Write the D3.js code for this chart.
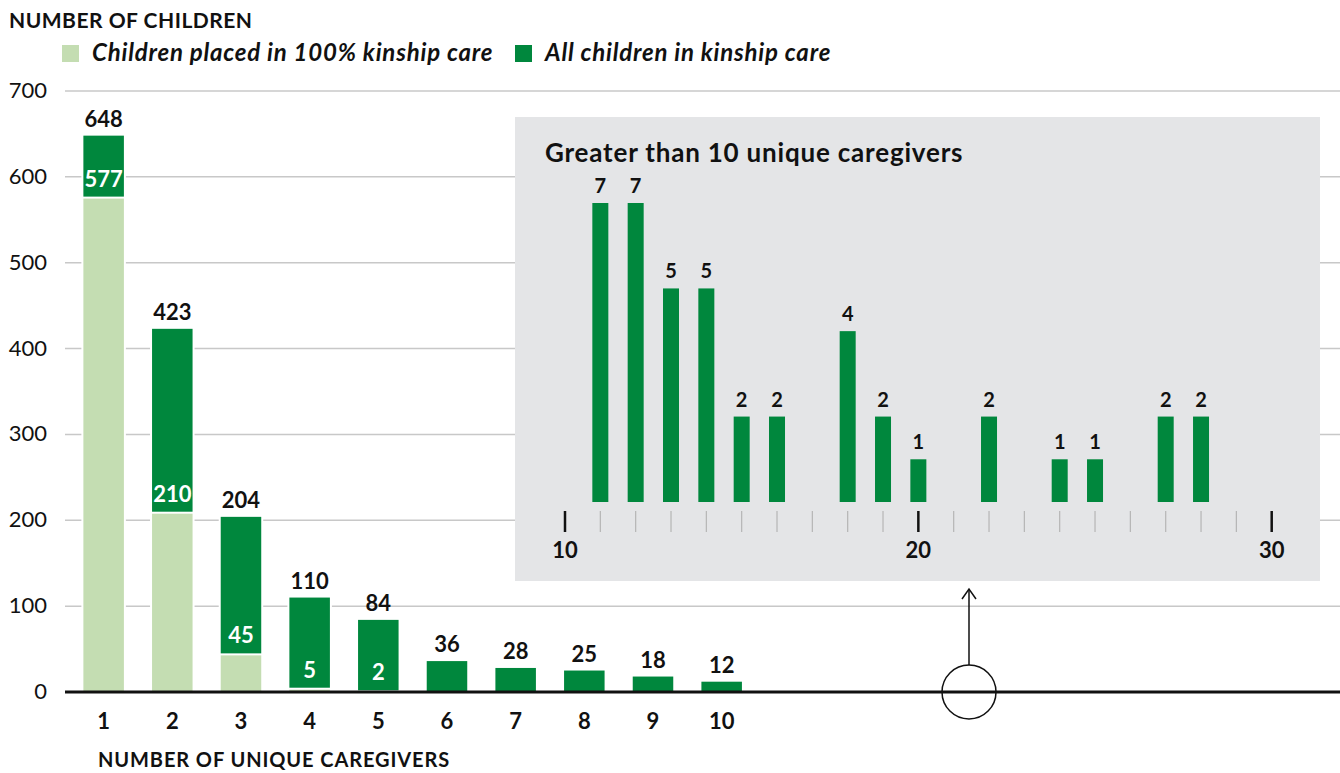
<!DOCTYPE html>
<html>
<head>
<meta charset="utf-8">
<script src="https://cdn.jsdelivr.net/npm/d3@7"></script>
<style>
  body { margin: 0; background: #fff; }
  svg { font-family: "Lato", "Noto Sans", sans-serif; }
</style>
</head>
<body>
<div id="chart"></div>
<script>
var width = 1340;
var height = 773;

// main chart data
var categories = [1, 2, 3, 4, 5, 6, 7, 8, 9, 10];
var allKinship = [648, 423, 204, 110, 84, 36, 28, 25, 18, 12];
var fullKinship = [577, 210, 45, 5, 2, null, null, null, null, null];
var yTicks = [0, 100, 200, 300, 400, 500, 600, 700];

// inset data (more than 10 caregivers)
var insetCaregivers = [11, 12, 13, 14, 15, 16, 18, 19, 20, 22, 24, 25, 27, 28];
var insetChildren = [7, 7, 5, 5, 2, 2, 4, 2, 1, 2, 1, 1, 2, 2];
var insetMajorTicks = [10, 20, 30];

var darkGreen = "#00873d";
var lightGreen = "#c4ddb2";

var svg = d3.select("#chart")
  .append("svg")
  .attr("width", width)
  .attr("height", height);

var xScale = d3.scaleBand()
  .domain(categories)
  .range([69.3, 756])
  .paddingInner(0.41)
  .paddingOuter(0.205);

var yScale = d3.scaleLinear()
  .domain([0, 700])
  .range([692, 91]);

// gridlines
svg.append("g")
  .selectAll("line")
  .data(yTicks.filter(function(d) { return d > 0; }))
  .enter()
  .append("line")
  .attr("x1", 65)
  .attr("x2", width)
  .attr("y1", function(d) { return yScale(d); })
  .attr("y2", function(d) { return yScale(d); })
  .attr("stroke", "#c8c8c8")
  .attr("stroke-width", 1.5);

// y labels
svg.append("g")
  .selectAll("text")
  .data(yTicks)
  .enter()
  .append("text")
  .attr("x", 47)
  .attr("y", function(d) { return yScale(d) + 7; })
  .attr("text-anchor", "end")
  .attr("font-size", 22)
  .attr("fill", "#111")
  .text(function(d) { return d; });

// inset box
var inset = svg.append("g");
inset.append("rect")
  .attr("x", 515)
  .attr("y", 117)
  .attr("width", 805)
  .attr("height", 464)
  .attr("fill", "#e4e5e7");

inset.append("text")
  .attr("x", 545)
  .attr("y", 162)
  .attr("font-size", 26)
  .attr("font-weight", 700)
  .attr("letter-spacing", 0.8)
  .attr("fill", "#111")
  .text("Greater than 10 unique caregivers");

var ix = d3.scaleLinear().domain([10, 30]).range([565, 1271.7]);
var iy = d3.scaleLinear().domain([0, 7]).range([502, 203]);

inset.append("g")
  .selectAll("line")
  .data(d3.range(11, 30).filter(function(d) { return d !== 20; }))
  .enter()
  .append("line")
  .attr("x1", function(d) { return ix(d); })
  .attr("x2", function(d) { return ix(d); })
  .attr("y1", 511)
  .attr("y2", 532)
  .attr("stroke", "#b5b5b5")
  .attr("stroke-width", 1.2);

inset.append("g")
  .selectAll("line")
  .data(insetMajorTicks)
  .enter()
  .append("line")
  .attr("x1", function(d) { return ix(d); })
  .attr("x2", function(d) { return ix(d); })
  .attr("y1", 511)
  .attr("y2", 532)
  .attr("stroke", "#111")
  .attr("stroke-width", 2.5);

inset.append("g")
  .selectAll("text")
  .data(insetMajorTicks)
  .enter()
  .append("text")
  .attr("x", function(d) { return ix(d); })
  .attr("y", 558)
  .attr("text-anchor", "middle")
  .attr("font-size", 22)
  .attr("font-weight", 700)
  .attr("fill", "#111")
  .text(function(d) { return d; });

inset.append("g")
  .selectAll("rect")
  .data(insetCaregivers)
  .enter()
  .append("rect")
  .attr("x", function(d) { return ix(d) - 8; })
  .attr("y", function(d, i) { return iy(insetChildren[i]); })
  .attr("width", 16)
  .attr("height", function(d, i) { return iy(0) - iy(insetChildren[i]); })
  .attr("fill", darkGreen);

inset.append("g")
  .selectAll("text")
  .data(insetCaregivers)
  .enter()
  .append("text")
  .attr("x", function(d) { return ix(d); })
  .attr("y", function(d, i) { return iy(insetChildren[i]) - 10; })
  .attr("text-anchor", "middle")
  .attr("font-size", 20)
  .attr("font-weight", 700)
  .attr("fill", "#111")
  .text(function(d, i) { return insetChildren[i]; });

// main bars: light part first, dark stacked on top
var bars = svg.append("g");
bars.selectAll("rect.light")
  .data(categories.filter(function(d, i) { return fullKinship[i] !== null; }))
  .enter()
  .append("rect")
  .attr("class", "light")
  .attr("x", function(d) { return xScale(d); })
  .attr("y", function(d) { return yScale(fullKinship[d - 1]); })
  .attr("width", xScale.bandwidth())
  .attr("height", function(d) { return yScale(0) - yScale(fullKinship[d - 1]); })
  .attr("fill", lightGreen)
  .attr("stroke", "#fff")
  .attr("stroke-width", 4)
  .attr("paint-order", "stroke");

bars.selectAll("rect.dark")
  .data(categories)
  .enter()
  .append("rect")
  .attr("class", "dark")
  .attr("x", function(d) { return xScale(d); })
  .attr("y", function(d, i) { return yScale(allKinship[i]); })
  .attr("width", xScale.bandwidth())
  .attr("height", function(d, i) {
    return yScale(fullKinship[i] || 0) - yScale(allKinship[i]);
  })
  .attr("fill", darkGreen)
  .attr("stroke", "#fff")
  .attr("stroke-width", 4)
  .attr("paint-order", "stroke");

// total labels
bars.selectAll("text.total")
  .data(categories)
  .enter()
  .append("text")
  .attr("class", "total")
  .attr("x", function(d) { return xScale(d) + xScale.bandwidth() / 2; })
  .attr("y", function(d, i) { return yScale(allKinship[i]) - 9; })
  .attr("text-anchor", "middle")
  .attr("font-size", 22)
  .attr("font-weight", 700)
  .attr("fill", "#111")
  .text(function(d, i) { return allKinship[i]; });

// 100% kinship labels inside dark part
bars.selectAll("text.inner")
  .data(categories.filter(function(d, i) { return fullKinship[i] !== null; }))
  .enter()
  .append("text")
  .attr("class", "inner")
  .attr("x", function(d) { return xScale(d) + xScale.bandwidth() / 2; })
  .attr("y", function(d) { return yScale(fullKinship[d - 1]) - 10; })
  .attr("text-anchor", "middle")
  .attr("font-size", 22)
  .attr("font-weight", 700)
  .attr("fill", "#fff")
  .text(function(d) { return fullKinship[d - 1]; });

// zero line
svg.append("line")
  .attr("x1", 65)
  .attr("x2", width)
  .attr("y1", yScale(0))
  .attr("y2", yScale(0))
  .attr("stroke", "#111")
  .attr("stroke-width", 3);

// x labels
svg.append("g")
  .selectAll("text")
  .data(categories)
  .enter()
  .append("text")
  .attr("x", function(d) { return xScale(d) + xScale.bandwidth() / 2; })
  .attr("y", 729)
  .attr("text-anchor", "middle")
  .attr("font-size", 22)
  .attr("font-weight", 700)
  .attr("fill", "#111")
  .text(function(d) { return d; });

svg.append("text")
  .attr("x", 98)
  .attr("y", 767)
  .attr("font-size", 20)
  .attr("font-weight", 700)
  .attr("letter-spacing", 0.9)
  .attr("fill", "#111")
  .text("NUMBER OF UNIQUE CAREGIVERS");

// circle + arrow pointing to inset
svg.append("circle")
  .attr("cx", 969)
  .attr("cy", yScale(0))
  .attr("r", 27)
  .attr("fill", "none")
  .attr("stroke", "#111")
  .attr("stroke-width", 1.5);

svg.append("line")
  .attr("x1", 969)
  .attr("x2", 969)
  .attr("y1", yScale(0) - 27)
  .attr("y2", 589)
  .attr("stroke", "#111")
  .attr("stroke-width", 1.5);

svg.append("path")
  .attr("d", "M962,599 L969,589 L976,599")
  .attr("fill", "none")
  .attr("stroke", "#111")
  .attr("stroke-width", 1.5);

// title + legend
svg.append("text")
  .attr("x", 9)
  .attr("y", 28)
  .attr("font-size", 21)
  .attr("font-weight", 700)
  .attr("letter-spacing", 0.5)
  .attr("fill", "#111")
  .text("NUMBER OF CHILDREN");

var legend = svg.append("g")
  .selectAll("g")
  .data([
    {color: lightGreen, label: "Children placed in 100% kinship care", x: 62},
    {color: darkGreen, label: "All children in kinship care", x: 515}
  ])
  .enter()
  .append("g")
  .attr("transform", function(d) { return "translate(" + d.x + ",0)"; });

legend.append("rect")
  .attr("y", 45)
  .attr("width", 17)
  .attr("height", 17)
  .attr("fill", function(d) { return d.color; });

legend.append("text")
  .attr("x", 30)
  .attr("y", 61)
  .attr("font-size", 24)
  .attr("font-weight", 700)
  .attr("font-style", "italic")
  .attr("letter-spacing", 0.8)
  .attr("fill", "#111")
  .text(function(d) { return d.label; });
</script>
</body>
</html>
